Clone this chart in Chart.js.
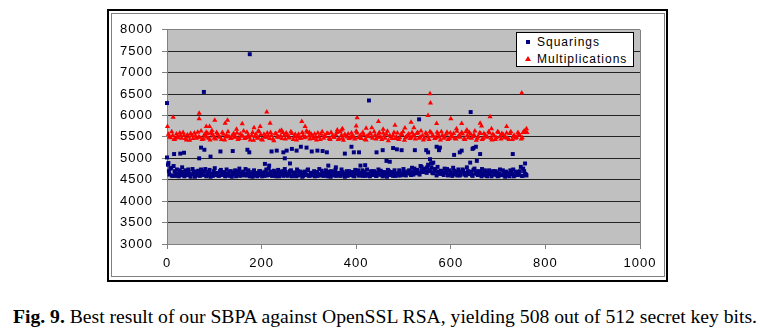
<!DOCTYPE html>
<html lang="en">
<head>
<meta charset="UTF-8">
<title>SBPA against OpenSSL RSA</title>
<script src="https://cdn.jsdelivr.net/npm/chart.js"></script>
<style>
  body { margin: 0; width: 770px; height: 334px; background: #fff; position: relative; overflow: hidden; }
  .frame { position: absolute; left: 107px; top: 9px; width: 557px; height: 269px; border: 2px solid #000; }
  .chart-box { position: absolute; left: 111px; top: 13px; width: 554px; height: 264px;
               border: 1px solid #808080; box-sizing: border-box; }
  .chart-wrap { position: absolute; left: 111px; top: 13px; width: 554px; height: 264px; }
  .legend { position: absolute; left: 516px; top: 32px; width: 116px; height: 33px;
            border: 1px solid #000; background: #fff;
            font: 12px "Liberation Sans", Arial, sans-serif; letter-spacing: 1px; color: #000; }
  .legend .row { position: absolute; left: 0; height: 16px; line-height: 16px; }
  .legend .txt { position: absolute; left: 20px; white-space: nowrap; }
  .mk-square { position: absolute; left: 9px; top: 6px; width: 4px; height: 4px; background: #000080; }
  .mk-tri { position: absolute; left: 8px; top: 5px; width: 0; height: 0;
            border-left: 3px solid transparent; border-right: 3px solid transparent; border-bottom: 5px solid #ff0000; }
  .caption { position: absolute; left: 0; top: 306px; width: 770px; text-align: center;
             font: 19px "Liberation Serif", "Times New Roman", serif; color: #000; white-space: nowrap; }
  .caption span { display: inline-block; transform-origin: center; }
</style>
</head>
<body>
<div class="frame"></div>
<div class="chart-box"></div>
<div class="chart-wrap"><canvas id="sbpa"></canvas></div>
<div class="legend" id="legend"></div>
<div class="caption"><span id="cap"><b>Fig. 9.</b> Best result of our SBPA against OpenSSL RSA, yielding 508 out of 512 secret key bits.</span></div>

<script>
// series labels
const seriesNames = ['Squarings', 'Multiplications'];

// squarings: two passes over the main band, then the upper band and outliers
const sqX = [
  2,5,9,12,16,19,23,27,30,34,
  37,41,45,48,52,56,59,63,66,70,
  74,77,81,85,88,92,95,99,103,106,
  110,114,117,121,124,128,132,135,139,143,
  146,150,153,157,161,164,168,172,175,179,
  182,186,190,193,197,201,204,208,211,215,
  219,222,226,230,233,237,240,244,248,251,
  255,259,262,266,269,273,277,280,284,288,
  291,295,298,302,306,309,313,317,320,324,
  327,331,335,338,342,346,349,353,356,360,
  364,367,371,375,378,382,385,389,393,396,
  400,404,407,411,414,418,422,425,429,433,
  436,440,443,447,451,454,458,462,465,469,
  472,476,480,483,487,491,494,498,501,505,
  509,512,516,520,523,527,530,534,538,541,
  545,549,552,556,559,563,567,570,574,578,
  581,585,588,592,596,599,603,607,610,614,
  617,621,625,628,632,636,639,643,646,650,
  654,657,661,665,668,672,675,679,683,686,
  690,694,697,701,704,708,712,715,719,723,
  726,730,733,737,741,744,748,752,755,759,
  4,7,11,14,18,21,25,29,32,35,
  39,43,46,50,54,57,61,65,68,72,
  75,79,83,86,90,94,97,101,104,108,
  112,115,119,123,126,130,133,137,141,144,
  148,152,155,159,162,166,170,173,177,181,
  184,188,191,195,199,202,206,210,213,217,
  220,224,228,231,235,239,242,246,249,253,
  257,260,264,268,271,275,278,282,286,289,
  293,297,300,304,307,311,315,318,322,326,
  329,333,336,340,344,347,351,355,358,362,
  365,369,373,376,380,384,387,391,394,398,
  402,405,409,413,416,420,423,427,431,434,
  438,442,445,449,452,456,460,463,467,471,
  474,478,481,485,489,492,496,500,503,507,
  510,514,518,521,525,529,532,536,539,543,
  547,550,554,558,561,565,568,572,576,579,
  583,587,590,594,597,601,605,608,612,616,
  619,623,626,630,634,637,641,645,648,652,
  655,659,663,666,670,674,677,681,684,688,
  692,695,699,703,706,710,713,717,721,724,
  728,732,735,739,742,746,750,753,757,760,
  0,78,175,427,642,533,0,3,15,28,
  36,68,72,79,92,113,139,170,174,207,
  216,221,232,246,249,253,260,264,274,283,
  295,306,318,329,338,341,357,376,390,395,
  406,409,419,443,456,464,471,478,486,496,
  524,548,552,556,560,563,570,575,577,607,
  619,623,641,646,648,653,655,662,731,757
];
const sqY = [
  4850,4620,4780,4600,4700,4590,4650,4720,4610,4680,
  4580,4660,4740,4600,4630,4690,4570,4640,4710,4590,
  4660,4620,4750,4600,4680,4570,4640,4700,4610,4660,
  4590,4730,4620,4680,4600,4650,4590,4700,4620,4670,
  4580,4640,4760,4610,4690,4600,4650,4720,4580,4630,
  4680,4600,4660,4610,4700,4580,4640,4690,4600,4760,
  4650,4590,4710,4620,4670,4580,4640,4700,4610,4680,
  4590,4640,4720,4600,4660,4580,4700,4620,4650,4590,
  4690,4610,4740,4600,4660,4620,4580,4680,4630,4600,
  4710,4590,4650,4620,4690,4570,4640,4600,4730,4610,
  4660,4590,4680,4620,4650,4590,4700,4610,4670,4580,
  4640,4720,4600,4660,4590,4690,4620,4640,4580,4700,
  4610,4660,4590,4740,4620,4680,4600,4650,4570,4700,
  4630,4610,4680,4590,4650,4720,4600,4640,4690,4600,
  4660,4720,4610,4680,4760,4650,4700,4620,4800,4680,
  4740,4660,4850,4700,4780,4650,4720,4600,4690,4640,
  4700,4610,4660,4750,4620,4680,4590,4710,4640,4600,
  4690,4620,4740,4660,4600,4700,4630,4680,4590,4760,
  4640,4610,4700,4580,4650,4720,4600,4670,4630,4580,
  4700,4620,4660,4590,4740,4610,4680,4570,4650,4600,
  4720,4630,4580,4690,4610,4660,4800,4590,4700,4620,
  4700,4760,4590,4820,4640,4740,4580,4670,4790,4600,
  4720,4610,4680,4570,4750,4630,4690,4600,4660,4740,
  4610,4700,4580,4650,4730,4620,4590,4770,4640,4600,
  4700,4610,4650,4580,4740,4620,4690,4570,4660,4720,
  4610,4700,4590,4660,4620,4750,4600,4680,4640,4570,
  4720,4630,4580,4700,4620,4670,4590,4740,4650,4610,
  4690,4600,4660,4580,4730,4620,4680,4590,4750,4640,
  4610,4700,4580,4670,4620,4740,4600,4690,4570,4660,
  4630,4720,4590,4660,4600,4700,4640,4590,4750,4620,
  4660,4600,4720,4580,4640,4700,4610,4680,4590,4650,
  4600,4740,4620,4570,4700,4640,4610,4680,4590,4730,
  4680,4600,4650,4720,4630,4590,4740,4610,4690,4620,
  4700,4590,4660,4620,4710,4580,4680,4640,4730,4610,
  4680,4590,4720,4640,4600,4690,4620,4750,4610,4660,
  4700,4640,4780,4620,4690,4730,4660,4820,4710,4760,
  4680,4790,4720,4880,4660,4750,4690,4800,4640,4710,
  4640,4760,4690,4600,4720,4650,4780,4620,4690,4740,
  4600,4680,4710,4620,4790,4640,4690,4610,4730,4650,
  4700,4620,4660,4750,4610,4690,4580,4720,4640,4690,
  4620,4700,4580,4650,4610,4720,4600,4690,4640,4580,
  4660,4740,4600,4680,4620,4700,4590,4760,4640,4600,
  6290,6550,7430,6350,6080,5910,5020,4890,5100,5110,
  5130,5000,5250,5200,5040,5160,5170,5200,5140,4870,
  4830,5160,5180,5140,5000,5180,4880,5220,5180,5270,
  5250,5160,5180,5170,5140,4830,4790,5110,5270,5140,
  5140,4830,4840,5140,5190,4940,4920,5240,5210,5190,
  5190,5190,5140,4980,4880,4900,5270,5190,5250,5080,
  5140,5180,4900,5220,5240,5270,4940,5100,5100,4880
];

// multiplications: two passes over the main band, then the spikes above it
const mulX = [
  3,8,12,17,22,27,31,36,41,46,
  50,55,60,65,69,74,79,84,88,93,
  98,103,107,112,117,122,126,131,136,141,
  145,150,155,160,164,169,174,179,183,188,
  193,198,202,207,212,217,221,226,231,236,
  240,245,250,255,259,264,269,274,278,283,
  288,293,297,302,307,312,316,321,326,331,
  335,340,345,350,354,359,364,369,373,378,
  383,388,392,397,402,407,411,416,421,426,
  430,435,440,445,449,454,459,464,468,473,
  478,483,487,492,497,502,506,511,516,521,
  525,530,535,540,544,549,554,559,563,568,
  573,578,582,587,592,597,601,606,611,616,
  620,625,630,635,639,644,649,654,658,663,
  668,673,677,682,687,692,696,701,706,711,
  715,720,725,730,734,739,744,749,753,758,
  5,10,15,20,24,29,34,39,43,48,
  53,58,62,67,72,77,81,86,91,96,
  100,105,110,115,119,124,129,134,138,143,
  148,153,157,162,167,172,176,181,186,191,
  195,200,205,210,214,219,224,229,233,238,
  243,248,252,257,262,267,271,276,281,286,
  290,295,300,305,309,314,319,324,328,333,
  338,343,347,352,357,362,366,371,376,381,
  385,390,395,400,404,409,414,419,423,428,
  433,438,442,447,452,457,461,466,471,476,
  480,485,490,495,499,504,509,514,518,523,
  528,533,537,542,547,552,556,561,566,571,
  575,580,585,590,594,599,604,609,613,618,
  623,628,632,637,642,647,651,656,661,666,
  670,675,680,685,689,694,699,704,708,713,
  718,723,727,732,737,742,746,751,755,761,
  1,13,68,68,83,83,90,95,101,123,
  128,147,159,184,193,197,211,218,242,285,
  292,301,360,369,371,400,402,421,433,447,
  457,482,503,516,522,552,556,557,570,600,
  612,623,634,662,665,683,686,718,750,760
];
const mulY = [
  5560,5480,5530,5450,5510,5590,5470,5540,5430,5500,
  5580,5460,5520,5610,5490,5440,5550,5500,5470,5590,
  5520,5450,5560,5490,5600,5430,5540,5510,5470,5580,
  5500,5440,5570,5520,5460,5610,5490,5530,5420,5560,
  5480,5550,5430,5500,5590,5460,5530,5410,5570,5490,
  5520,5600,5450,5540,5480,5580,5500,5430,5560,5470,
  5540,5490,5610,5450,5520,5570,5430,5500,5560,5470,
  5510,5580,5440,5530,5490,5600,5460,5540,5420,5520,
  5570,5480,5530,5450,5590,5500,5460,5550,5430,5510,
  5580,5470,5540,5490,5600,5440,5520,5560,5410,5500,
  5530,5460,5590,5480,5550,5420,5510,5570,5490,5540,
  5450,5600,5500,5530,5470,5560,5440,5590,5520,5480,
  5560,5430,5540,5500,5610,5460,5520,5580,5450,5510,
  5490,5570,5440,5530,5600,5470,5550,5420,5510,5580,
  5460,5540,5500,5590,5430,5520,5480,5600,5450,5550,
  5510,5470,5580,5440,5530,5490,5560,5450,5600,5620,
  5500,5620,5440,5570,5480,5530,5600,5460,5550,5420,
  5530,5590,5470,5500,5640,5450,5520,5580,5430,5560,
  5470,5600,5510,5440,5560,5500,5620,5460,5530,5490,
  5590,5460,5520,5640,5480,5540,5430,5600,5510,5470,
  5620,5440,5560,5490,5520,5600,5450,5580,5500,5630,
  5460,5540,5590,5480,5620,5440,5560,5510,5470,5600,
  5480,5640,5520,5560,5460,5500,5590,5440,5620,5530,
  5580,5460,5600,5490,5550,5440,5620,5470,5560,5500,
  5460,5590,5500,5630,5480,5540,5600,5440,5520,5570,
  5500,5620,5450,5560,5490,5590,5470,5630,5530,5460,
  5600,5500,5440,5570,5620,5480,5540,5460,5600,5520,
  5580,5470,5640,5430,5590,5500,5620,5520,5460,5610,
  5500,5620,5470,5560,5440,5590,5500,5460,5630,5540,
  5600,5450,5620,5480,5560,5510,5640,5470,5590,5440,
  5580,5500,5620,5470,5560,5440,5620,5510,5580,5480,
  5590,5440,5620,5510,5470,5600,5540,5480,5640,5600,
  5740,5960,6050,5925,5740,5610,5740,5650,5890,5817,
  5890,5680,5805,5715,5640,5740,6080,5817,5655,5860,
  5740,5600,5660,5660,5690,5755,5947,5700,5715,5860,
  5680,5770,5710,5840,5715,6002,6510,6294,5810,5924,
  5690,5810,5660,5817,5755,5970,5690,5740,6526,5690
];

// axis ranges
const xMin = 0, xMax = 1000, xStep = 200;
const yMin = 3000, yMax = 8000, yStep = 500;

const toPoints = (xs, ys) => xs.map((x, i) => ({ x: x, y: ys[i] }));

// grey plot area behind the grid, wide letter spacing for tick labels
const plotBackground = {
  id: 'plotBackground',
  beforeDraw(chart) {
    const { ctx, chartArea: a } = chart;
    ctx.save();
    ctx.fillStyle = '#c0c0c0';
    ctx.fillRect(a.left, a.top, a.width, a.height);
    ctx.restore();
    ctx.letterSpacing = '1px';
  }
};

const tickFont = { family: '"Liberation Sans", Arial, sans-serif', size: 13 };
const plainNumber = v => String(v);

const chart = new Chart(document.getElementById('sbpa'), {
  type: 'scatter',
  data: {
    datasets: [
      {
        label: seriesNames[0],
        data: toPoints(sqX, sqY),
        pointStyle: 'rect',
        pointRadius: 2.8,
        pointBorderWidth: 0,
        backgroundColor: '#000080',
        borderColor: '#000080',
        clip: false
      },
      {
        label: seriesNames[1],
        data: toPoints(mulX, mulY),
        pointStyle: 'triangle',
        pointRadius: 3,
        pointBorderWidth: 0,
        backgroundColor: '#ff0000',
        borderColor: '#ff0000',
        clip: false
      }
    ]
  },
  options: {
    responsive: true,
    maintainAspectRatio: false,
    animation: false,
    layout: { padding: { top: 15, right: 25, left: 0, bottom: 0 } },
    plugins: { legend: { display: false }, tooltip: { enabled: false } },
    scales: {
      x: {
        type: 'linear',
        min: xMin, max: xMax,
        afterFit(scale) { scale.height = 33; },
        ticks: { stepSize: xStep, color: '#000', font: tickFont, padding: 7, maxRotation: 0, callback: plainNumber },
        grid: {
          color: c => (c.tick && c.tick.value === xMax) ? '#808080' : 'rgba(0,0,0,0)',
          tickColor: '#808080',
          tickLength: 5
        },
        border: { color: '#808080' }
      },
      y: {
        min: yMin, max: yMax,
        afterFit(scale) { scale.width = 56; },
        ticks: { stepSize: yStep, color: '#000', font: tickFont, padding: 9, callback: plainNumber },
        grid: {
          color: c => (c.tick && (c.tick.value === yMax || c.tick.value === yMin)) ? '#808080' : '#222222',
          tickColor: '#808080',
          tickLength: 5
        },
        border: { color: '#808080' }
      }
    }
  },
  plugins: [plotBackground]
});

// legend box, built from the datasets
const legend = document.getElementById('legend');
chart.data.datasets.forEach((ds, i) => {
  const row = document.createElement('div');
  row.className = 'row';
  row.style.top = (1 + i * 17) + 'px';
  const mk = document.createElement('span');
  mk.className = ds.pointStyle === 'rect' ? 'mk-square' : 'mk-tri';
  const txt = document.createElement('span');
  txt.className = 'txt';
  txt.textContent = ds.label;
  row.appendChild(mk);
  row.appendChild(txt);
  legend.appendChild(row);
});

// stretch the caption line to the text block width
const cap = document.getElementById('cap');
cap.style.transform = 'scaleX(' + (744 / cap.getBoundingClientRect().width) + ')';
</script>
</body>
</html>
